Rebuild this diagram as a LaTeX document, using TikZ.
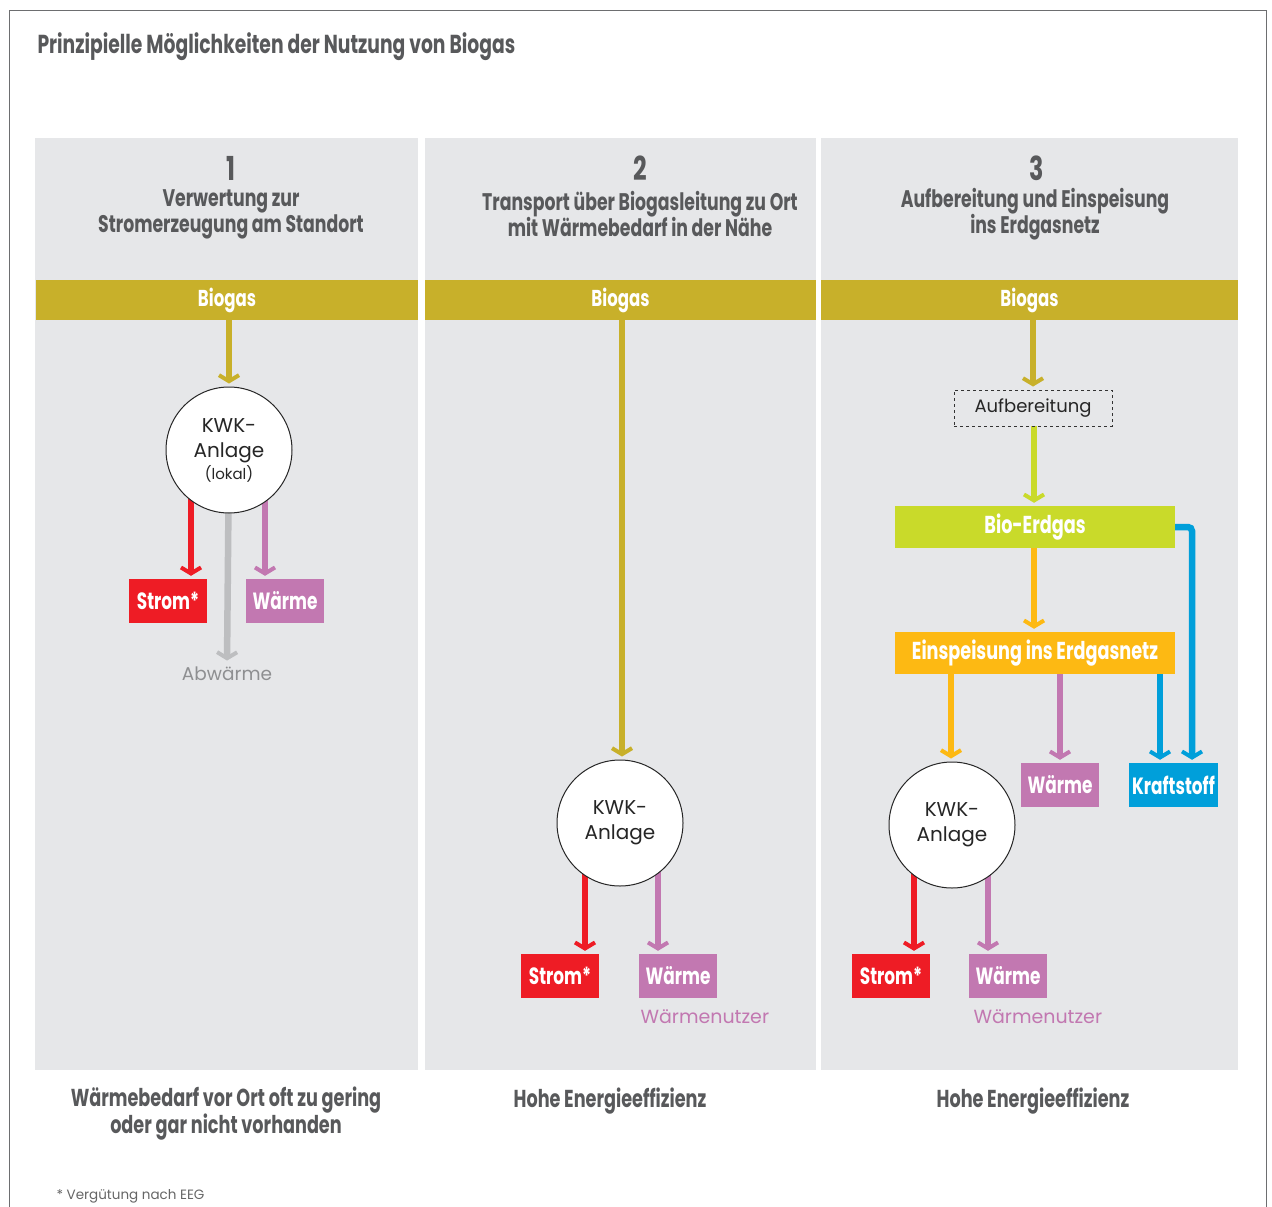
\documentclass[tikz,border=0pt]{standalone}
\usepackage{fontspec}
\setmainfont{Poppins}
\newfontfamily\hd[FakeStretch=0.72]{Poppins}
\usetikzlibrary{arrows.meta,calc}
\pgfdeclarelayer{bg}\pgfdeclarelayer{mid}\pgfsetlayers{bg,mid,main}
\definecolor{gold}{HTML}{C8B02A}
\definecolor{cred}{HTML}{EE1C25}
\definecolor{cpurp}{HTML}{C278B1}
\definecolor{lime}{HTML}{C9DA2A}
\definecolor{corange}{HTML}{FDB913}
\definecolor{cblue}{HTML}{009FDA}
\definecolor{panel}{HTML}{E6E7E9}
\definecolor{txt}{HTML}{58595B}
\definecolor{abw}{HTML}{BDBEC0}
\definecolor{abwt}{HTML}{8E8F91}
\definecolor{framec}{HTML}{6D6E70}
\begin{document}
\begin{tikzpicture}[x=1pt,y=-1pt,
  head/.style={font=\hd\bfseries\fontsize{24}{26}\selectfont, text=txt, align=center},
  num/.style={font=\hd\bfseries\fontsize{33}{36}\selectfont, text=txt},
  bar/.style={fill=gold, minimum height=40pt, inner sep=0pt, text height=1.2em, text depth=0em, text=white, font=\hd\bfseries\fontsize{23}{26}\selectfont},
  tag/.style={minimum height=44pt, minimum width=78pt, inner sep=0pt, text=white, font=\hd\bfseries\fontsize{23.5}{26}\selectfont},
  wide/.style={minimum height=42pt, minimum width=280pt, inner sep=0pt, text=white, font=\hd\bfseries\fontsize{24.5}{28}\selectfont},
  kwk/.style={circle, draw=black!85, line width=1pt, fill=white, minimum size=126pt, inner sep=0pt, align=center, font=\fontsize{20}{25}\selectfont, text=black!85},
  arr/.style={line width=6.5pt, -{Straight Barb[length=6pt,width=20pt,line width=4pt]}, shorten >=3pt},
  lbl/.style={font=\fontsize{19}{23}\selectfont},
  foot/.style={font=\hd\bfseries\fontsize{24.5}{27}\selectfont, text=txt, align=center}
]
\useasboundingbox (0,0) rectangle (1272,1207);
\begin{pgfonlayer}{bg}
\fill[white] (0,0) rectangle (1272,1207);
\fill[panel] (35,138) rectangle (418,1070);
\fill[panel] (425,138) rectangle (816,1070);
\fill[panel] (821,138) rectangle (1238,1070);
\end{pgfonlayer}
\draw[framec, line width=1.2pt] (9.5,1207) -- (9.5,10.5) -- (1266.5,10.5) -- (1266.5,1207);

\node[anchor=west, font=\hd\bfseries\fontsize{26}{30}\selectfont, text=txt] (title) at (34,47) {Prinzipielle Möglichkeiten der Nutzung von Biogas};

% headers
\node[num] (n1) at (231,168) {1};
\node[num] (n2) at (640,168) {2};
\node[num] (n3) at (1037,168) {3};
\node[head] (h1) at (231,214) {Verwertung zur\\Stromerzeugung am Standort};
\node[head] (h2) at (640,214) {Transport über Biogasleitung zu Ort\\mit Wärmebedarf in der Nähe};
\node[head] (h3) at (1035,214) {Aufbereitung und Einspeisung\\ins Erdgasnetz};

% biogas bars
\node[bar, minimum width=382pt] (b1) at (227,300) {Biogas};
\node[bar, minimum width=391pt] (b2) at (620.5,300) {Biogas};
\node[bar, minimum width=417pt] (b3) at (1029.5,300) {Biogas};

% panel 1
\node[kwk] (c1) at (229,450) {KWK-\\Anlage\\[-3pt]{\fontsize{15}{18}\selectfont(lokal)}};
\node[tag, fill=cred] (s1) at (168,601) {Strom*};
\node[tag, fill=cpurp] (w1) at (285,601) {Wärme};
\node[lbl, text=abwt, font=\fontsize{18.5}{22}\selectfont] (abw) at (227,674) {Abwärme};

% panel 2
\node[kwk] (c2) at (620,823) {KWK-\\Anlage};
\node[tag, fill=cred] (s2) at (560,976) {Strom*};
\node[tag, fill=cpurp] (w2) at (678,976) {Wärme};
\node[lbl, text=cpurp, anchor=west] (wn2) at (637,1017) {Wärmenutzer};

% panel 3
\node[draw=black!80, dashed, line width=0.9pt, minimum width=158pt, minimum height=36pt, inner sep=0pt, font=\fontsize{18}{22}\selectfont, text=black!85] (auf) at (1033,408) {Aufbereitung};
\node[wide, fill=lime] (bio) at (1035,527) {Bio-Erdgas};
\node[wide, fill=corange] (ein) at (1035,653) {Einspeisung ins Erdgasnetz};
\node[kwk] (c3) at (952,825) {KWK-\\Anlage};
\node[tag, fill=cpurp] (w3a) at (1060,785) {Wärme};
\node[tag, fill=cblue, minimum width=89pt] (kr) at (1173.5,785) {Kraftstoff};
\node[tag, fill=cred] (s3) at (891,976) {Strom*};
\node[tag, fill=cpurp] (w3) at (1008,976) {Wärme};
\node[lbl, text=cpurp, anchor=west] (wn3) at (970,1017) {Wärmenutzer};

% bottom texts
\node[foot] (f1) at (226,1114) {Wärmebedarf vor Ort oft zu gering\\oder gar nicht vorhanden};
\node[foot] (f2) at (610,1101) {Hohe Energieeffizienz};
\node[foot] (f3) at (1033,1101) {Hohe Energieeffizienz};
\node[anchor=west, font=\fontsize{13.5}{17}\selectfont, text=black!60] (fn) at (53,1196) {* Vergütung nach EEG};

% connectors
\begin{pgfonlayer}{mid}
\draw[arr, gold] (b1.south -| c1) -- (c1.north);
\draw[arr, cred] ([xshift=-38pt]c1.center) -- ([xshift=-38pt]c1.center |- s1.north);
\draw[arr, abw] (c1.center) -- (abw.north);
\draw[arr, cpurp] ([xshift=36pt]c1.center) -- ([xshift=36pt]c1.center |- w1.north);

\draw[arr, gold] ([xshift=2pt]b2.south -| c2) -- ([xshift=2pt]c2.north);
\draw[arr, cred] ([xshift=-35pt]c2.center) -- ([xshift=-35pt]c2.center |- s2.north);
\draw[arr, cpurp] ([xshift=38pt]c2.center) -- ([xshift=38pt]c2.center |- w2.north);

\draw[arr, gold] (b3.south -| auf) -- (auf.north);
\draw[arr, lime] ([xshift=1pt]auf.south) -- ([xshift=1pt]auf.south |- bio.north);
\draw[arr, corange] ([xshift=-1pt]bio.south) -- ([xshift=-1pt]ein.north);
\draw[arr, cblue, rounded corners=4pt] (bio.east) -| ([xshift=18.5pt]kr.north);
\draw[arr, cblue] ([xshift=-13.5pt]kr.north |- ein.south) -- ([xshift=-13.5pt]kr.north);
\draw[arr, cpurp] (w3a.north |- ein.south) -- (w3a.north);
\draw[arr, corange] ([xshift=-1pt]c3.north |- ein.south) -- ([xshift=-1pt]c3.north);
\draw[arr, cred] ([xshift=-38pt]c3.center) -- ([xshift=-38pt]c3.center |- s3.north);
\draw[arr, cpurp] ([xshift=36pt]c3.center) -- ([xshift=36pt]c3.center |- w3.north);
\end{pgfonlayer}
\end{tikzpicture}
\end{document}
